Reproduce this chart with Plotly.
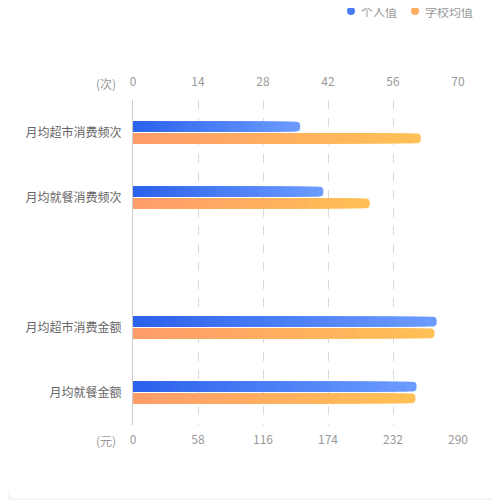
import numpy as np
import plotly.graph_objects as go

# top group uses the (次) axis, bottom group the (元) axis
cats_count = ["月均超市消费频次", "月均就餐消费频次"]
cats_money = ["月均超市消费金额", "月均就餐金额"]
personal_count = [36, 41]
school_count = [62, 51]
personal_money = [271, 253]
school_money = [269, 252]
count_ticks = [0, 14, 28, 42, 56, 70]
money_ticks = [0, 58, 116, 174, 232, 290]
legend_names = ["个人值", "学校均值"]

blue = ((44, 98, 236), (108, 155, 255))
orange = ((255, 157, 106), (255, 192, 85))

N = 30
BAR_W = 0.15


def mix(c, t):
    a, b = np.array(c[0]), np.array(c[1])
    r, g, bl = (a + (b - a) * t).round().astype(int)
    return "rgb(%d,%d,%d)" % (r, g, bl)


def gradient_bar(fig, ys, vals, colors, offset, xaxis):
    # full-length rounded bar at the bottom, shorter bars stacked over it
    fig.add_trace(go.Bar(
        y=ys, x=vals, orientation="h", offset=offset, width=BAR_W,
        xaxis=xaxis, marker=dict(color=mix(colors, 1.0), cornerradius=5,
                                 line_width=0),
        showlegend=False, hoverinfo="skip"))
    yy, xx, cc = [], [], []
    for i in range(N - 1, 0, -1):
        for y, v in zip(ys, vals):
            yy.append(y)
            xx.append(v * i / N)
            cc.append(mix(colors, (i - 1) / (N - 1)))
    fig.add_trace(go.Bar(
        y=yy, x=xx, orientation="h", offset=offset, width=BAR_W,
        xaxis=xaxis, marker=dict(color=cc, line_width=0),
        showlegend=False, hoverinfo="skip"))


y_count = [0, 1]
y_money = [3, 4]

fig = go.Figure()
gradient_bar(fig, y_count, personal_count, blue, -0.165, "x2")
gradient_bar(fig, y_count, school_count, orange, 0.015, "x2")
gradient_bar(fig, y_money, personal_money, blue, -0.165, "x")
gradient_bar(fig, y_money, school_money, orange, 0.015, "x")

# page pixel -> paper coords (page has an 8px body margin)
px = lambda p: (p - 133) / 325.0
py = lambda p: (425 - p) / 325.0

# white card on a light grey page
r = 8 / 325.0
x0, x1, y0, y1 = px(8), px(520), py(498), py(0)
card = ("M %f,%f L %f,%f L %f,%f L %f,%f Q %f,%f %f,%f L %f,%f Q %f,%f %f,%f Z" %
        (x0 + r, y1, x1, y1, x1, y0, x0 + r, y0, x0, y0, x0, y0 + r,
         x0, y1 - r, x0, y1, x0 + r, y1))
fig.add_shape(type="path", path=card, xref="paper", yref="paper",
              fillcolor="white", line_width=0, layer="below")

# legend drawn by hand so it does not push the margins
for name, col, cx in zip(legend_names, ["#4a7cf6", "#ffad5e"], [351, 415]):
    fig.add_shape(type="circle", xref="paper", yref="paper",
                  xsizemode="pixel", ysizemode="pixel",
                  xanchor=px(cx), yanchor=py(11), x0=-4, x1=4, y0=-4, y1=4,
                  fillcolor=col, line_width=0)
    fig.add_annotation(text=name, x=px(cx + 8), y=py(11), xref="paper",
                       yref="paper", xanchor="left", yanchor="middle",
                       showarrow=False, font=dict(size=12, color="#999999"))

fig.add_annotation(text="(次)", x=0, y=1, xref="paper", yref="paper",
                   xanchor="right", yanchor="middle", xshift=-15, yshift=17,
                   showarrow=False, font=dict(size=12, color="#999999"))
fig.add_annotation(text="(元)", x=0, y=0, xref="paper", yref="paper",
                   xanchor="right", yanchor="middle", xshift=-15, yshift=-15,
                   showarrow=False, font=dict(size=12, color="#999999"))

fig.update_layout(
    width=500, height=500, autosize=False,
    margin=dict(l=125, r=50, t=92, b=83),
    paper_bgcolor="#f4f5f9", plot_bgcolor="rgba(0,0,0,0)",
    barmode="overlay", showlegend=False,
    font=dict(family="Noto Sans CJK SC", size=12, color="#999999"),
    xaxis=dict(range=[0, 290], tickvals=money_ticks, showgrid=True,
               gridcolor="#d9d9d9", griddash="dash", zeroline=False,
               showline=False, ticks="", ticklabelstandoff=6),
    xaxis2=dict(range=[0, 70], tickvals=count_ticks, overlaying="x",
                side="top", showgrid=False, zeroline=False, showline=False,
                ticks="", ticklabelstandoff=11),
    yaxis=dict(range=[4.5, -0.5], tickvals=y_count + y_money,
               ticktext=cats_count + cats_money, showgrid=False,
               zeroline=False, showline=True, linecolor="#cccccc",
               ticks="", ticklabelstandoff=8,
               tickfont=dict(size=12, color="#666666")),
)

fig.write_html("out.html")
